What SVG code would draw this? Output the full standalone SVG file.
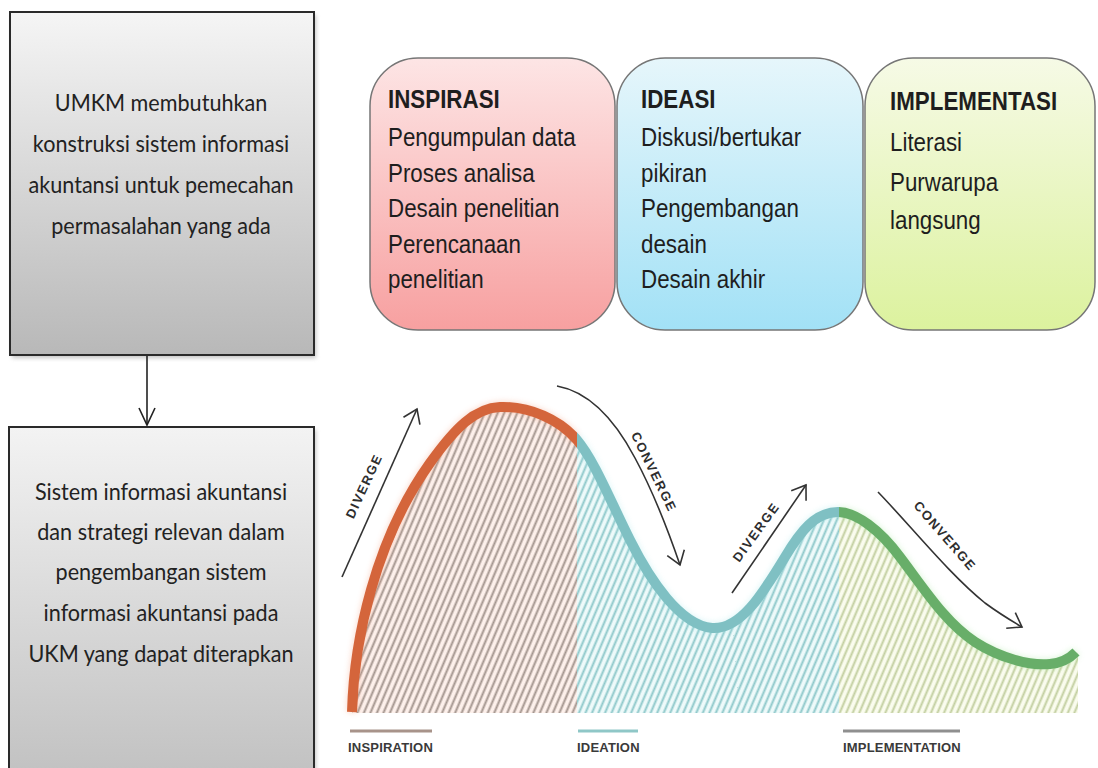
<svg xmlns="http://www.w3.org/2000/svg" width="1098" height="768" viewBox="0 0 1098 768">
<defs>
<style>
.box{stroke:#2a2a2a;stroke-width:2}
.bt{font-family:Lato,'Liberation Sans',sans-serif;font-size:24px;fill:#222;text-anchor:middle}
.card{stroke:#767676;stroke-width:1.5}
.ct{font-family:'Liberation Sans',Arial,sans-serif;font-size:26px;fill:#1e1e1e}
.ch{font-weight:bold}
.arr{fill:none;stroke:#333;stroke-width:1.6}
.lab{font-family:'Liberation Sans',Arial,sans-serif;font-weight:bold;font-size:13px;letter-spacing:1.6px;fill:#2e2e2e;text-anchor:middle}
.phase{font-family:'Liberation Sans',Arial,sans-serif;font-weight:bold;font-size:13px;letter-spacing:0.2px;fill:#3a3a3a}
.crv{fill:none;stroke-width:10;stroke-linecap:butt}
</style>
<linearGradient id="gGray" x1="0" y1="0" x2="0" y2="1"><stop offset="0" stop-color="#f5f5f5"/><stop offset="1" stop-color="#b8b8b8"/></linearGradient>
<linearGradient id="gGray2" x1="0" y1="0" x2="0" y2="1"><stop offset="0" stop-color="#f3f3f3"/><stop offset="1" stop-color="#c2c2c2"/></linearGradient>
<linearGradient id="gPink" x1="0" y1="0" x2="0" y2="1"><stop offset="0" stop-color="#fde5e5"/><stop offset="1" stop-color="#f7a0a0"/></linearGradient>
<linearGradient id="gBlue" x1="0" y1="0" x2="0" y2="1"><stop offset="0" stop-color="#e6f6fb"/><stop offset="1" stop-color="#a2e1f6"/></linearGradient>
<linearGradient id="gGreen" x1="0" y1="0" x2="0" y2="1"><stop offset="0" stop-color="#f6fae6"/><stop offset="1" stop-color="#dcf29e"/></linearGradient>
<filter id="shadow" x="-10%" y="-10%" width="120%" height="120%"><feGaussianBlur stdDeviation="2"/></filter>
<filter id="glow" x="-10%" y="-10%" width="120%" height="120%"><feGaussianBlur stdDeviation="3"/></filter>
<pattern id="hO" patternUnits="userSpaceOnUse" width="6" height="6" patternTransform="rotate(23)">
<rect width="6" height="6" fill="#fdf0eb"/><line x1="1.5" y1="0" x2="1.5" y2="6" stroke="#a3958e" stroke-width="2"/>
</pattern>
<pattern id="hT" patternUnits="userSpaceOnUse" width="6" height="6" patternTransform="rotate(23)">
<rect width="6" height="6" fill="#eefafa"/><line x1="1.5" y1="0" x2="1.5" y2="6" stroke="#8ec8ca" stroke-width="2"/>
</pattern>
<pattern id="hG" patternUnits="userSpaceOnUse" width="6" height="6" patternTransform="rotate(23)">
<rect width="6" height="6" fill="#fafcee"/><line x1="1.5" y1="0" x2="1.5" y2="6" stroke="#c2cfa0" stroke-width="2"/>
</pattern>
<marker id="open" markerUnits="userSpaceOnUse" viewBox="0 0 18 20" markerWidth="18" markerHeight="20" refX="14" refY="10" orient="auto" overflow="visible">
<path d="M1,1 L14,10 L1,19" fill="none" stroke="#333" stroke-width="1.6"/>
</marker>
<clipPath id="cO"><rect x="340" y="380" width="237" height="340"/></clipPath>
<clipPath id="cT"><rect x="577" y="380" width="262" height="340"/></clipPath>
<clipPath id="cG"><rect x="839" y="380" width="259" height="340"/></clipPath>
<path id="curve" d="M352,712 C354,640 375,540 430,463 C455,428 475,408 500,407 C530,406 560,420 577,440 C594,460 610,500 630,540 C650,580 680,625 712,628 C740,630 762,595 785,557 C800,532 815,512 838,512 C856,512 880,530 900,557 C925,590 945,622 975,642 C1000,658 1030,666 1050,664 C1062,663 1070,658 1076,652"/>
<path id="area" d="M352,712 C354,640 375,540 430,463 C455,428 475,408 500,407 C530,406 560,420 577,440 C594,460 610,500 630,540 C650,580 680,625 712,628 C740,630 762,595 785,557 C800,532 815,512 838,512 C856,512 880,530 900,557 C925,590 945,622 975,642 C1000,658 1030,666 1050,664 C1062,663 1070,658 1078,652 L1078,713 L352,713 Z"/>
</defs>
<rect width="1098" height="768" fill="#ffffff"/>

<g id="node-umkm">
<rect x="12" y="15" width="304" height="343" fill="#888" opacity="0.5" filter="url(#shadow)"/>
<rect x="10" y="12" width="304" height="343" fill="url(#gGray)" class="box"/>
<g transform="translate(161,0) scale(0.9,1)">
<text class="bt" x="0" y="111">UMKM membutuhkan</text>
<text class="bt" x="0" y="152">konstruksi sistem informasi</text>
<text class="bt" x="0" y="193">akuntansi untuk pemecahan</text>
<text class="bt" x="0" y="234">permasalahan yang ada</text>
</g>
</g>

<g id="node-sistem">
<rect x="12" y="430" width="304" height="345" fill="#888" opacity="0.5" filter="url(#shadow)"/>
<rect x="9" y="427" width="305" height="345" fill="url(#gGray2)" class="box"/>
<g transform="translate(161,0) scale(0.9,1)">
<text class="bt" x="0" y="500">Sistem informasi akuntansi</text>
<text class="bt" x="0" y="540">dan strategi relevan dalam</text>
<text class="bt" x="0" y="580">pengembangan sistem</text>
<text class="bt" x="0" y="621">informasi akuntansi pada</text>
<text class="bt" x="0" y="662">UKM yang dapat diterapkan</text>
</g>
</g>

<g id="connectors">
<line x1="147" y1="356" x2="147" y2="425" stroke="#222" stroke-width="1.6"/>
<polyline points="139,408 147,425 155,408" fill="none" stroke="#222" stroke-width="1.6"/>
</g>

<g id="card-inspirasi">
<rect x="370" y="58" width="245" height="272" rx="48" ry="48" fill="url(#gPink)" class="card"/>
<g transform="translate(388,0) scale(0.86,1)">
<text class="ct ch" x="0" y="108">INSPIRASI</text>
<text class="ct" x="0" y="146">Pengumpulan data</text>
<text class="ct" x="0" y="182">Proses analisa</text>
<text class="ct" x="0" y="217">Desain penelitian</text>
<text class="ct" x="0" y="253">Perencanaan</text>
<text class="ct" x="0" y="288">penelitian</text>
</g>
</g>

<g id="card-ideasi">
<rect x="617" y="58" width="246" height="272" rx="48" ry="48" fill="url(#gBlue)" class="card"/>
<g transform="translate(641,0) scale(0.86,1)">
<text class="ct ch" x="0" y="108">IDEASI</text>
<text class="ct" x="0" y="146">Diskusi/bertukar</text>
<text class="ct" x="0" y="182">pikiran</text>
<text class="ct" x="0" y="217">Pengembangan</text>
<text class="ct" x="0" y="253">desain</text>
<text class="ct" x="0" y="288">Desain akhir</text>
</g>
</g>

<g id="card-implementasi">
<rect x="865" y="58" width="230" height="272" rx="48" ry="48" fill="url(#gGreen)" class="card"/>
<g transform="translate(890,0) scale(0.86,1)">
<text class="ct ch" x="0" y="110">IMPLEMENTASI</text>
<text class="ct" x="0" y="151">Literasi</text>
<text class="ct" x="0" y="191">Purwarupa</text>
<text class="ct" x="0" y="229">langsung</text>
</g>
</g>

<g id="chart">
<use href="#area" fill="url(#hO)" clip-path="url(#cO)"/>
<use href="#area" fill="url(#hT)" clip-path="url(#cT)"/>
<use href="#area" fill="url(#hG)" clip-path="url(#cG)"/>
<g filter="url(#glow)" opacity="0.45">
<use href="#curve" class="crv" stroke="#f4a080" stroke-width="16" clip-path="url(#cO)"/>
<use href="#curve" class="crv" stroke="#a8e8ec" stroke-width="16" clip-path="url(#cT)"/>
<use href="#curve" class="crv" stroke="#a8e8a0" stroke-width="16" clip-path="url(#cG)"/>
</g>
<use href="#curve" class="crv" stroke="#d4653b" clip-path="url(#cO)"/>
<use href="#curve" class="crv" stroke="#7fc0c3" clip-path="url(#cT)"/>
<use href="#curve" class="crv" stroke="#68ae69" clip-path="url(#cG)"/>

<path class="arr" d="M342,577 L417,409" marker-end="url(#open)"/>
<path class="arr" d="M557,386 C590,392 615,420 635,458 C655,495 668,530 680,565" marker-end="url(#open)"/>
<path class="arr" d="M732,593 L806,485" marker-end="url(#open)"/>
<path class="arr" d="M878,492 C910,525 950,575 985,603 C1000,614 1010,620 1022,627" marker-end="url(#open)"/>

<text class="lab" transform="translate(364,486) rotate(-65)" dy="0.35em">DIVERGE</text>
<text class="lab" transform="translate(654,472) rotate(64)" dy="0.35em">CONVERGE</text>
<text class="lab" transform="translate(756,532) rotate(-54)" dy="0.35em">DIVERGE</text>
<text class="lab" transform="translate(945,536) rotate(49)" dy="0.35em">CONVERGE</text>

<line x1="350" y1="731" x2="432" y2="731" stroke="#a8938a" stroke-width="3"/>
<line x1="578" y1="731" x2="638" y2="731" stroke="#8fc7c7" stroke-width="3"/>
<line x1="843" y1="731" x2="960" y2="731" stroke="#8f8f8f" stroke-width="3"/>
<text class="phase" x="348" y="752">INSPIRATION</text>
<text class="phase" x="577" y="752">IDEATION</text>
<text class="phase" x="843" y="752">IMPLEMENTATION</text>
</g>
</svg>
